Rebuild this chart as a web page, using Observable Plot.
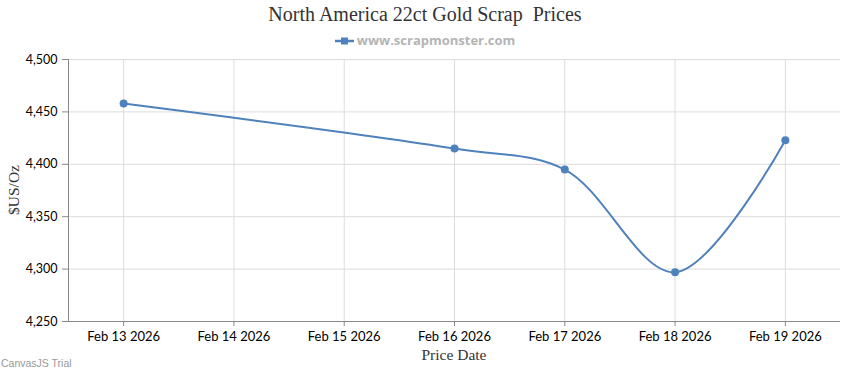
<!DOCTYPE html>
<html>
<head>
<meta charset="utf-8">
<script src="https://cdn.jsdelivr.net/npm/d3@7"></script>
<script src="https://cdn.jsdelivr.net/npm/@observablehq/plot@0.6"></script>
<style>
  html, body { margin: 0; padding: 0; background: #fff; }
  #wrap { position: relative; width: 850px; height: 370px; overflow: hidden; }
  #chart { position: absolute; left: 0; top: 0; }
  .ov { position: absolute; white-space: nowrap; }
  #title { left: 0; width: 850px; top: 3px; text-align: center; font-family: "Liberation Serif", "DejaVu Serif", serif; font-size: 20px; color: #333; }
  #legend { left: 0; width: 850px; top: 31px; text-align: center; font-family: "Open Sans", "Liberation Sans", sans-serif; font-size: 13px; font-weight: bold; color: #b4b4b4; }
  #legend svg { vertical-align: 0px; margin-right: 3px; }
  #ylab { left: 14px; top: 190px; transform: translate(-50%, -50%) rotate(-90deg); font-family: "Liberation Serif", serif; font-size: 15.5px; color: #333; }
  #xlab { left: 0; width: 908px; top: 346px; text-align: center; font-family: "Liberation Serif", serif; font-size: 15.5px; color: #333; }
  #trial { left: 1px; top: 357px; font-family: "Liberation Sans", Arial, sans-serif; font-size: 10.5px; color: #999; }
</style>
</head>
<body>
<div id="wrap">
  <div id="chart"></div>
  <div class="ov" id="title">North America 22ct Gold Scrap&nbsp; Prices</div>
  <div class="ov" id="legend"><svg width="19" height="8"><line x1="0" y1="4" x2="19" y2="4" stroke="#4F81BC" stroke-width="2.5"/><rect x="6" y="0.5" width="7" height="7" fill="#4F81BC"/></svg>www.scrapmonster.com</div>
  <div class="ov" id="ylab">$US/Oz</div>
  <div class="ov" id="xlab">Price Date</div>
  <div class="ov" id="trial">CanvasJS Trial</div>
</div>
<script>
const dates = ["2026-02-13", "2026-02-16", "2026-02-17", "2026-02-18", "2026-02-19"];
const prices = [4458, 4415, 4395, 4297, 4423];
const xTickLabels = ["2026-02-13", "2026-02-14", "2026-02-15", "2026-02-16", "2026-02-17", "2026-02-18", "2026-02-19"];
const yTicks = [4250, 4300, 4350, 4400, 4450, 4500];

const data = dates.map((d, i) => ({date: new Date(d + "T00:00:00Z"), price: prices[i]}));
const xTicks = xTickLabels.map(d => new Date(d + "T00:00:00Z"));
const x0 = new Date("2026-02-12T12:00:00Z");
const x1 = new Date("2026-02-19T12:00:00Z");
const fmt = d3.utcFormat("%b %d %Y");
const color = "#4F81BC";

const chart = Plot.plot({
  width: 850,
  height: 370,
  marginLeft: 68,
  marginRight: 10,
  marginTop: 59,
  marginBottom: 49,
  style: {fontFamily: "Lato, 'Open Sans', sans-serif", fontSize: "12px", color: "#000", background: "transparent"},
  x: {type: "utc", domain: [x0, x1], label: null},
  y: {domain: [4250, 4500], label: null},
  marks: [
    Plot.gridX(xTicks, {stroke: "#dcdcdc", strokeOpacity: 1}),
    Plot.gridY(yTicks, {stroke: "#dcdcdc", strokeOpacity: 1}),
    Plot.axisX({ticks: xTicks, tickFormat: fmt, tickSize: 5, tickPadding: 5, stroke: "#888", fill: "#000", fontSize: 13, label: null}),
    Plot.axisY({ticks: yTicks, tickFormat: d3.format(","), tickSize: 6, tickPadding: 5, stroke: "#888", fill: "#000", fontSize: 12.5, label: null}),
    Plot.ruleX([x0], {stroke: "#888"}),
    Plot.ruleY([4250], {stroke: "#888"}),
    Plot.line(data, {x: "date", y: "price", curve: "catmull-rom", stroke: color, strokeWidth: 2}),
    Plot.dot(data, {x: "date", y: "price", r: 4, fill: color, stroke: "none"})
  ]
});
document.getElementById("chart").appendChild(chart);
</script>
</body>
</html>
